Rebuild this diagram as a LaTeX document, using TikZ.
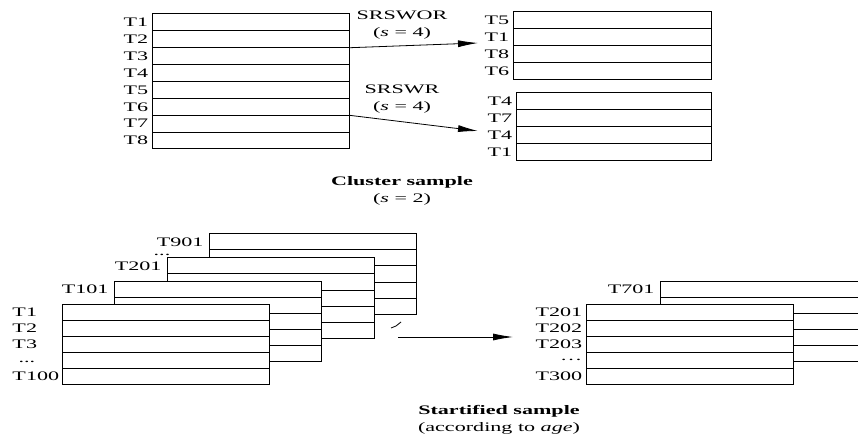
\documentclass[tikz,border=0pt]{standalone}
\usepackage{fontspec}
\setmainfont{Liberation Serif}[FakeStretch=1.7]
\usetikzlibrary{arrows.meta,positioning}

\begin{document}
\begin{tikzpicture}[x=1pt,y=-1pt,>={Latex[length=20pt,width=7pt]},
font=\fontsize{13}{17}\selectfont,line width=1pt,
row/.style={draw,fill=white,inner sep=0pt,outer sep=0pt,minimum width=207pt,minimum height=16pt},
tag/.style={inner sep=0pt},
legend/.style={align=center}]
\clip (0,0) rectangle (858,435);
% cluster sample
\foreach \t [count=\i] in {T1,T2,T3,T4,T5,T6,T7,T8}
  \node[row,minimum width=197pt,minimum height=16.875pt,label={left:\t}] (c\i) at (250.5,5.5625+16.875*\i) {};
\foreach \t [count=\i] in {T5,T1,T8,T6}
  \node[row,minimum width=198pt,minimum height=17pt,label={left:\t}] (wor\i) at (612,3.5+17*\i) {};
\foreach \t [count=\i] in {T4,T7,T4,T1}
  \node[row,minimum width=195pt,minimum height=17pt,label={left:\t}] (wr\i) at (613.5,84.5+17*\i) {};
\coordinate (worin) at (478,43);
\coordinate (wrin) at (478,131);
\draw[->,line width=0.8pt] (c2.south east) -- (worin);
\draw[->,line width=0.8pt] (c6.south east) -- (wrin);
\node[legend] (worlbl) at (402,25.5) {SRSWOR\\(\textit{s} = 4)};
\node[legend] (wrlbl) at (402,99.5) {SRSWR\\(\textit{s} = 4)};
\node[legend] (clcap) at (402,191) {\textbf{Cluster sample}\\(\textit{s} = 2)};
% stratified sample, left stack
\foreach \i in {1,...,5} \node[row] (p\i) at (312.5,226+16*\i) {};
\node[tag,left=5pt of p1] (p1l) {T901};
\node[tag] (p2l) at (162,255) {...};
\foreach \i in {1,...,5} \node[row] (q\i) at (270.5,250+16*\i) {};
\node[tag,left=5pt of q1] (q1l) {T201};
\foreach \i in {1,...,5} \node[row] (r\i) at (217.5,273+16*\i) {};
\node[tag,left=5pt of r1] (r1l) {T101};
\foreach \i in {1,...,5} \node[row] (f\i) at (165.5,296+16*\i) {};
\coordinate (lm) at (12,0);
\coordinate (dm) at (18,0);
\foreach \t [count=\i] in {T1,T2,T3} \node[tag,anchor=west] (f\i l) at (f\i -| lm) {\t};
\node[tag,anchor=west] (f4l) at ([yshift=-2pt]f4 -| dm) {...};
\node[tag,anchor=west] (f5l) at (f5 -| lm) {T100};
% stratified sample, right stack
\foreach \i in {1,...,5} \node[row] (s\i) at (763.5,273+16*\i) {};
\node[tag,left=5pt of s1] (s1l) {T701};
\foreach \t [count=\i] in {T201,T202,T203,\ldots,T300}
  \node[row,label={left:\t}] (g\i) at (689.5,296+16*\i) {};
\coordinate (sin) at (398,337);
\coordinate (sout) at (513,337);
\draw[line width=0.8pt] ([shift={(-7,-9)}]sin) -- ++(5,-2) -- ++(5,-4);
\draw[->,line width=0.8pt] (sin) -- (sout);
\node[legend] (stcap) at (499,420) {\textbf{Startified sample}\\(according to \textit{age})};
\end{tikzpicture}
\end{document}
